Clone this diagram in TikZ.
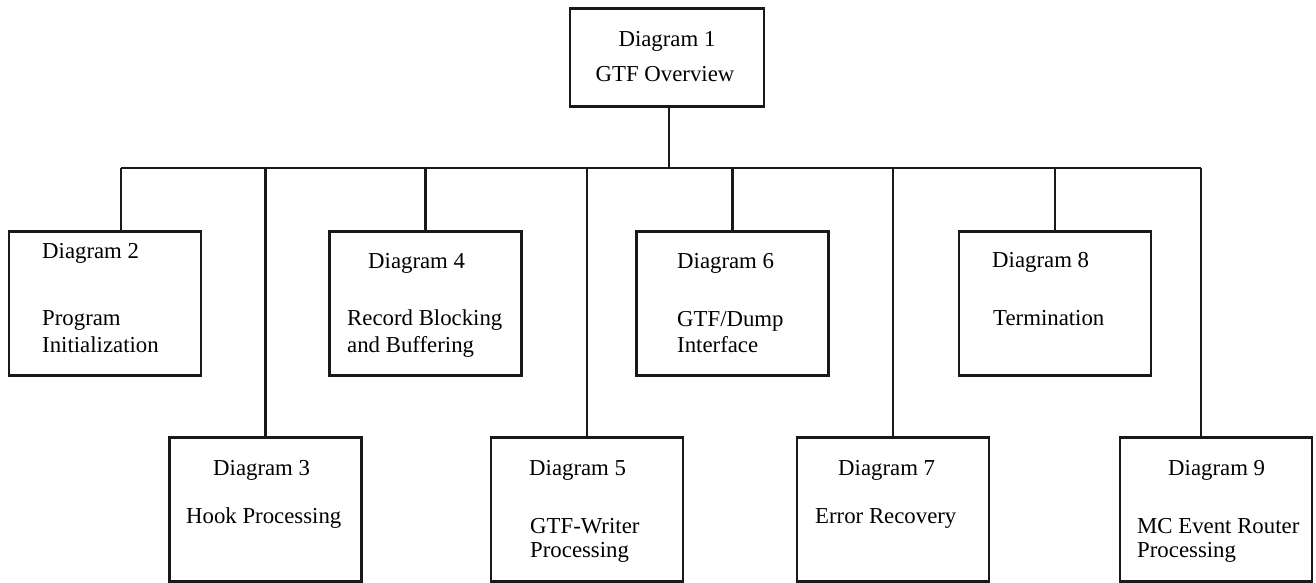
\documentclass[tikz,border=0pt]{standalone}
\usepackage{fontspec}
\setmainfont{Liberation Serif}
\begin{document}
\begin{tikzpicture}[x=1pt,y=-1pt,
  box/.style={draw=black!90, line width=2.6pt, rectangle, inner sep=0pt,
    minimum width=192pt, minimum height=144pt},
  topbox/.style={box, minimum width=194pt, minimum height=98pt},
  wire/.style={draw=black!90, line width=2.2pt},
  txt/.style={anchor=west, inner sep=0pt, text height=15pt, text depth=5pt,
    font=\fontsize{22.8}{27}\selectfont},
  ctxt/.style={txt, anchor=center}
]
\useasboundingbox (0,0) rectangle (1316,583);

% boxes
\node[topbox] (d1) at (667,57.5) {};
\node[box] (d2) at (105,303.5) {};
\node[box] (d4) at (425.5,303.5) {};
\node[box] (d6) at (732.5,303.5) {};
\node[box] (d8) at (1055,303.5) {};
\node[box] (d3) at (265.5,509.5) {};
\node[box] (d5) at (587,509.5) {};
\node[box] (d7) at (893,509.5) {};
\node[box] (d9) at (1216,509.5) {};

% box texts
\node[ctxt] (t1a) at (667,42) {Diagram 1};
\node[ctxt] (t1b) at (665,77) {GTF Overview};

\node[txt] (t2a) at (42,253) {Diagram 2};
\node[txt] (t2b) at (42,320) {Program};
\node[txt] (t2c) at (42,347) {Initialization};

\node[txt] (t4a) at (368,263) {Diagram 4};
\node[txt] (t4b) at (347,320) {Record Blocking};
\node[txt] (t4c) at (347,347) {and Buffering};

\node[txt] (t6a) at (677,263) {Diagram 6};
\node[txt] (t6b) at (677,321) {GTF/Dump};
\node[txt] (t6c) at (677,347) {Interface};

\node[txt] (t8a) at (992,262) {Diagram 8};
\node[txt] (t8b) at (993,320) {Termination};

\node[txt] (t3a) at (213,470) {Diagram 3};
\node[txt] (t3b) at (186,518) {Hook Processing};

\node[txt] (t5a) at (529,470) {Diagram 5};
\node[txt] (t5b) at (530,528) {GTF-Writer};
\node[txt] (t5c) at (530,552) {Processing};

\node[txt] (t7a) at (838,470) {Diagram 7};
\node[txt] (t7b) at (815,518) {Error Recovery};

\node[txt] (t9a) at (1168,470) {Diagram 9};
\node[txt] (t9b) at (1137,528) {MC Event Router};
\node[txt] (t9c) at (1137,552) {Processing};

% connector bus
\coordinate (busL) at (121,168);
\coordinate (busR) at (1201,168);
\coordinate (busT) at (669,168);
\path[wire] (busL) -- (busR);
\path[wire] (busT |- d1.south) -- (busT);
\path[wire] (busL) -- (busL |- d2.north);
\path[wire] (busR) -- (busR |- d9.north);
\path[wire] (d3.north) -- (d3.north |- busL);
\path[wire] (d4.north) -- (d4.north |- busL);
\path[wire] (d5.north) -- (d5.north |- busL);
\path[wire] (d6.north) -- (d6.north |- busL);
\path[wire] (d7.north) -- (d7.north |- busL);
\path[wire] (d8.north) -- (d8.north |- busL);
\end{tikzpicture}
\end{document}
